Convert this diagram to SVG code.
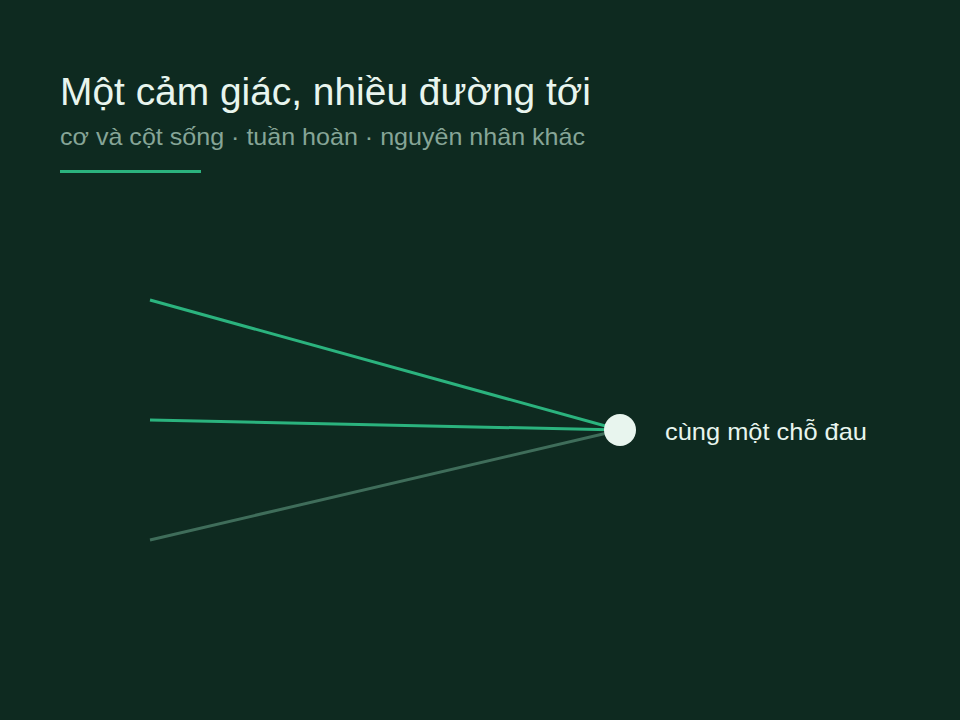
<svg xmlns="http://www.w3.org/2000/svg" width="960" height="720" viewBox="0 0 960 720">
<style>
.title{font-family:"Liberation Sans",Arial,sans-serif;font-size:38px;fill:#e8f5ee}
.sub{font-family:"Liberation Sans",Arial,sans-serif;font-size:24px;fill:#86a597}
.lbl{font-family:"Liberation Sans",Arial,sans-serif;font-size:24px;fill:#e8f5ee}
.path{fill:none;stroke-width:3;stroke-linecap:butt}
</style>
<rect width="960" height="720" fill="#0e2a20"/>
<g id="header">
<text class="title" x="60" y="105" textLength="531" lengthAdjust="spacingAndGlyphs">Một cảm giác, nhiều đường tới</text>
<text class="sub" x="60" y="145" textLength="525" lengthAdjust="spacingAndGlyphs">cơ và cột sống · tuần hoàn · nguyên nhân khác</text>
<rect x="60" y="170" width="141" height="3" fill="#2bb37e"/>
</g>
<g id="connectors">
<line class="path" x1="150" y1="300" x2="620" y2="430" stroke="#2bb37e"/>
<line class="path" x1="150" y1="420" x2="620" y2="430" stroke="#2bb37e"/>
<line class="path" x1="150" y1="540" x2="620" y2="430" stroke="#3f6d5a"/>
</g>
<g id="target">
<circle cx="620" cy="430" r="16" fill="#e8f5ee"/>
<text class="lbl" x="665" y="440" textLength="202" lengthAdjust="spacingAndGlyphs">cùng một chỗ đau</text>
</g>
</svg>
